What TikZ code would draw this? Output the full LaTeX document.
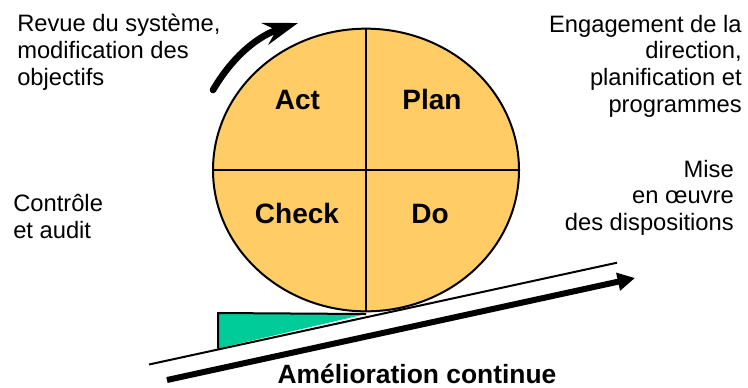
\documentclass[tikz,border=0pt]{standalone}
\usepackage{fontspec}
\setmainfont{Liberation Sans}
\usetikzlibrary{arrows.meta}
\definecolor{eggfill}{RGB}{255,204,102}
\definecolor{wedgegreen}{RGB}{0,204,153}
\tikzset{
  side/.style={inner sep=0pt, font=\fontsize{17.8}{20}\selectfont},
  phase/.style={inner sep=0pt, anchor=base, font=\fontsize{21}{24}\selectfont\bfseries},
  outline/.style={line width=1.5pt, draw=black},
}
\begin{document}
\begin{tikzpicture}[x=0.75pt, y=-0.75pt]
\useasboundingbox (0,0) rectangle (748,387);
% wedge
\coordinate (w1) at (218,313);
\coordinate (w2) at (366,314);
\coordinate (w3) at (218,348.5);
\fill[wedgegreen] (w1) -- (w2) -- (w3) -- cycle;
\draw[outline] (w3) -- (w1) -- (w2);
% wheel
\coordinate (c) at (366,170);
\draw[outline, fill=eggfill] (c) ellipse [x radius=114.75pt, y radius=106pt];
\coordinate (vt) at (366,29);
\coordinate (vb) at (366,311);
\coordinate (hl) at (213,170);
\coordinate (hr) at (519,170);
\draw[outline] (vt) -- (vb);
\draw[outline] (hl) -- (hr);
% slope and arrow
\coordinate (s1) at (149,364.5);
\coordinate (s2) at (617,262.7);
\draw[outline] (s1) -- (s2);
\coordinate (a1) at (167,380);
\coordinate (a2) at (635,278);
\draw[line width=4.5pt, -{Triangle[length=13pt, width=13pt]}] (a1) -- (a2);
% rotation arrow
\coordinate (r1) at (213,90);
\coordinate (r2) at (298,23);
\draw[line width=5pt, line cap=round, -{Stealth[length=26pt, width=17pt, inset=9pt, line cap=butt]}] (r1) .. controls (233,56) and (258,36) .. (r2);
% phase labels
\node[phase] (act) at (297.5,109) {Act};
\node[phase] (plan) at (432,109) {Plan};
\node[phase] (check) at (297,223) {Check};
\node[phase] (do) at (430,223) {Do};
\node[inner sep=0pt, anchor=base, font=\fontsize{19.8}{22}\selectfont\bfseries] (amel) at (417,383) {Amélioration continue};
% side texts (anchor = baseline of last line)
\node[side, anchor=base west, align=left] (revue) at (17,85) {Revue du système,\\modification des\\objectifs};
\node[side, anchor=base east, align=right] (engag) at (742,112) {Engagement de la\\direction,\\planification et\\programmes};
\node[side, anchor=base west, align=left] (controle) at (13,238) {Contrôle\\et audit};
\node[side, anchor=base east, align=right] (mise) at (734,230.5) {Mise\\en œuvre\\des dispositions};
\end{tikzpicture}
\end{document}
